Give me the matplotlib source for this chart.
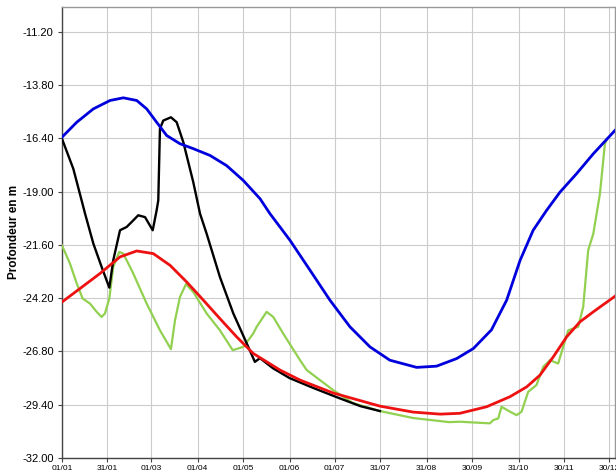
import matplotlib
matplotlib.use("Agg")
import matplotlib.pyplot as plt

plt.rcParams['font.family'] = ['Liberation Sans', 'DejaVu Sans']

# Tick labels (day of year positions)
tick_days = [0, 30, 59, 90, 120, 151, 181, 211, 242, 272, 303, 333, 363]
tick_labels = ["01/01", "31/01", "01/03", "01/04", "01/05", "01/06", "01/07",
               "31/07", "31/08", "30/09", "31/10", "30/11", "30/12"]
y_ticks = [-32.00, -29.40, -26.80, -24.20, -21.60, -19.00, -16.40, -13.80, -11.20]

# Blue series
blue_days = [0, 9.8, 20.8, 31.9, 40.7, 49.6, 56.2, 62.8, 69.5, 78.3, 87.1, 98.2,
             109.3, 120.3, 131.4, 138, 151.3, 164.6, 177.8, 191.1, 204.4, 217.6,
             235.4, 248.6, 261.9, 273, 285, 295.1, 304, 312.7, 321.6, 330.5, 341.5,
             352.6, 367]
blue_vals = [-16.35, -15.62, -14.97, -14.56, -14.43, -14.56, -14.97, -15.62, -16.27,
             -16.67, -16.91, -17.24, -17.74, -18.46, -19.35, -20.08, -21.38, -22.84,
             -24.30, -25.60, -26.58, -27.23, -27.58, -27.52, -27.15, -26.66, -25.75,
             -24.30, -22.36, -20.89, -19.92, -19.03, -18.13, -17.16, -16.02]

# Black series
black_days = [0, 7.5, 13, 15.3, 20.8, 26.3, 31.4, 34, 38.5, 42.9, 46.2, 50.6, 55.1,
              60.2, 62.8, 63.9, 65, 67.2, 72.3, 76.1, 80.5, 87.1, 91.6, 96, 104.8,
              113.7, 122.6, 128, 131.4, 140, 151, 167, 184, 198, 211]
black_vals = [-16.43, -17.89, -19.43, -20.08, -21.54, -22.68, -23.69, -22.36, -20.89,
              -20.73, -20.49, -20.16, -20.25, -20.89, -19.92, -19.43, -15.94, -15.54,
              -15.38, -15.62, -16.59, -18.54, -20.08, -21.06, -23.17, -24.95, -26.41,
              -27.31, -27.13, -27.62, -28.10, -28.59, -29.08, -29.47, -29.71]

# Red series
red_days = [0, 12, 25.2, 38.5, 49.6, 60.6, 71.7, 82.7, 93.8, 104.8, 115.9, 126.9,
            144.7, 158, 180, 211, 233, 251, 264, 281.8, 297.3, 308.4, 317.2, 326,
            334.9, 343.7, 352.6, 367]
red_vals = [-24.39, -23.73, -23.00, -22.19, -21.90, -22.03, -22.60, -23.41, -24.30,
            -25.20, -26.09, -26.90, -27.71, -28.20, -28.83, -29.47, -29.76, -29.86,
            -29.82, -29.50, -29.01, -28.53, -27.96, -27.07, -26.09, -25.36, -24.87,
            -24.11]

# Green series
green_days = [0, 5.3, 9.8, 13.7, 18.6, 23, 26.3, 28.5, 31.4, 34, 38, 40.7, 47.3,
              56.2, 65, 72.3, 75, 78.3, 82.3, 87.1, 96, 104.8, 113.3, 120.3, 126.9,
              129.2, 135.8, 140.2, 146.8, 158, 162.4, 180, 193, 211, 233, 257, 264,
              284, 286.2, 289.5, 291.7, 297.3, 301.7, 305, 309.4, 314.9, 319.4,
              323.8, 329.3, 332.6, 336, 342.6, 345.9, 349.2, 352.6, 357, 360.3, 361.9]
green_vals = [-21.63, -22.52, -23.49, -24.22, -24.47, -24.87, -25.12, -24.95, -24.22,
              -22.68, -21.95, -22.03, -23.00, -24.47, -25.77, -26.69, -25.28, -24.14,
              -23.52, -23.90, -24.95, -25.77, -26.74, -26.58, -25.93, -25.60, -24.87,
              -25.12, -25.93, -27.23, -27.71, -28.69, -29.32, -29.71, -30.05, -30.25,
              -30.23, -30.31, -30.15, -30.07, -29.50, -29.74, -29.91, -29.74, -28.77,
              -28.44, -27.55, -27.23, -27.39, -26.58, -25.77, -25.60, -24.63, -21.87,
              -21.06, -19.11, -16.67, -16.43]

fig = plt.figure(figsize=(6.16, 4.76), dpi=100)
ax = fig.add_axes([62/616, 1 - 458/476, (615-62)/616, (458-7)/476])

ax.plot(green_days, green_vals, color='#92d050', lw=1.6, zorder=3,
        solid_joinstyle='round')
ax.plot(black_days, black_vals, color='#000000', lw=1.7, zorder=4,
        solid_joinstyle='round')
ax.plot(red_days, red_vals, color='#ee1111', lw=2.0, zorder=5,
        solid_joinstyle='round')
ax.plot(blue_days, blue_vals, color='#0000dd', lw=2.0, zorder=6,
        solid_joinstyle='round')

ax.set_xlim(0, 367)
ax.set_ylim(-32.0, -10.0)
ax.set_yticks(y_ticks)
ax.set_yticklabels([f"{v:.2f}" for v in y_ticks], fontsize=8)
ax.set_xticks(tick_days)
ax.set_xticklabels(tick_labels, fontsize=6)
ax.grid(True, color='#cccccc', lw=0.8)
ax.set_axisbelow(True)
ax.tick_params(axis='y', length=3, width=0.8, color='#444444', pad=3)
ax.tick_params(axis='x', length=3, width=0.8, color='#444444', pad=2)
for s in ['left', 'bottom']:
    ax.spines[s].set_color('#444444')
    ax.spines[s].set_linewidth(1.0)
for s in ['top', 'right']:
    ax.spines[s].set_color('#999999')
    ax.spines[s].set_linewidth(1.0)

fig.text(14/616, 1 - 232/476, "Profondeur en m", rotation=90, fontsize=8.5,
         fontweight='bold', ha='center', va='center')

fig.savefig("out.png", dpi=100)
